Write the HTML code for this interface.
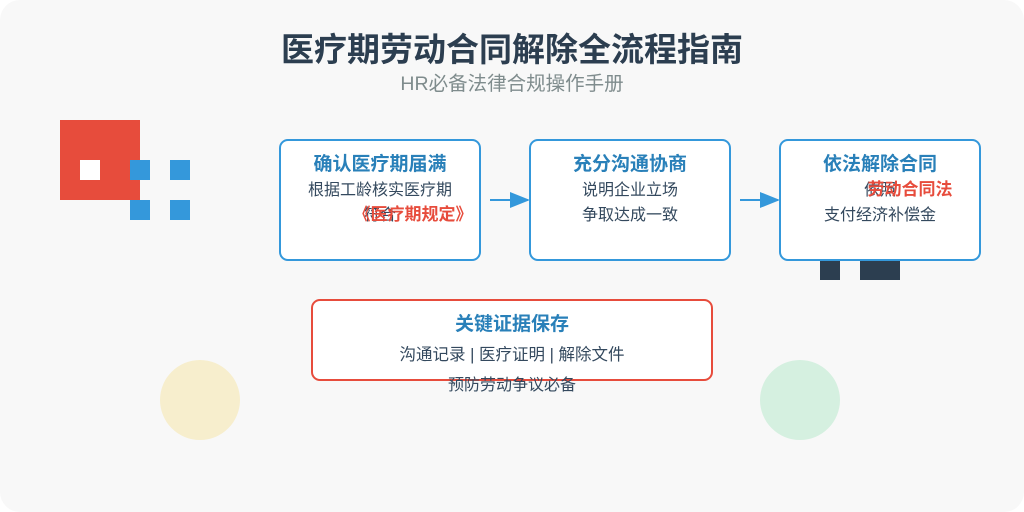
<!DOCTYPE html>
<html><head><meta charset="utf-8"><style>
html,body{margin:0;padding:0;background:#fff;}
svg{display:block;font-family:"Liberation Sans","Noto Sans CJK SC",sans-serif;}
</style></head><body>
<svg width="1024" height="512" viewBox="0 0 1024 512" xmlns="http://www.w3.org/2000/svg">
<defs><marker id="a" markerWidth="10" markerHeight="8" refX="9" refY="4" orient="auto"><path d="M0,0 L10,4 L0,8 Z" fill="#3498db"/></marker></defs>
<rect x="0" y="0" width="1024" height="512" rx="20" fill="#f8f8f8"/>
<text x="512" y="61" text-anchor="middle" font-size="33" font-weight="bold" fill="#2c3e50">医疗期劳动合同解除全流程指南</text>
<text x="512" y="90" text-anchor="middle" font-size="19.5" fill="#7f8c8d">HR必备法律合规操作手册</text>
<rect x="60" y="120" width="80" height="80" fill="#e74c3c"/>
<rect x="80" y="160" width="20" height="20" fill="#fff"/>
<rect x="130" y="160" width="20" height="20" fill="#3498db"/>
<rect x="170" y="160" width="20" height="20" fill="#3498db"/>
<rect x="130" y="200" width="20" height="20" fill="#3498db"/>
<rect x="170" y="200" width="20" height="20" fill="#3498db"/>
<circle cx="200" cy="400" r="40" fill="#f7eecd"/>
<circle cx="800" cy="400" r="40" fill="#d5f0e0"/>
<rect x="820" y="260" width="20" height="20" fill="#2c3e50"/>
<rect x="860" y="260" width="40" height="20" fill="#2c3e50"/>
<g stroke="#3498db" stroke-width="2" fill="#fff">
<rect x="280" y="140" width="200" height="120" rx="8"/>
<rect x="530" y="140" width="200" height="120" rx="8"/>
<rect x="780" y="140" width="200" height="120" rx="8"/>
</g>
<line x1="490" y1="200" x2="528" y2="200" stroke="#3498db" stroke-width="2" marker-end="url(#a)"/>
<line x1="740" y1="200" x2="778" y2="200" stroke="#3498db" stroke-width="2" marker-end="url(#a)"/>
<g font-size="19" font-weight="bold" fill="#2980b9" text-anchor="middle">
<text x="380" y="170">确认医疗期届满</text>
<text x="630" y="170">充分沟通协商</text>
<text x="880" y="170">依法解除合同</text>
</g>
<g font-size="16" fill="#34495e" text-anchor="middle">
<text x="380" y="195">根据工龄核实医疗期</text>
<text x="380" y="220">符合</text>
<text x="630" y="195">说明企业立场</text>
<text x="630" y="220">争取达成一致</text>
<text x="880" y="195">依照</text>
<text x="880" y="220">支付经济补偿金</text>
</g>
<g font-size="17" font-weight="bold" fill="#e74c3c" text-anchor="middle">
<text x="413" y="220">《医疗期规定》</text>
<text x="910" y="195">劳动合同法</text>
</g>
<rect x="312" y="300" width="400" height="80" rx="8" fill="#fff" stroke="#e74c3c" stroke-width="2"/>
<text x="512" y="330" text-anchor="middle" font-size="19" font-weight="bold" fill="#2980b9">关键证据保存</text>
<text x="512" y="360" text-anchor="middle" font-size="16.5" fill="#34495e">沟通记录 | 医疗证明 | 解除文件</text>
<text x="512" y="390" text-anchor="middle" font-size="16" fill="#34495e">预防劳动争议必备</text>
</svg>
</body></html>
